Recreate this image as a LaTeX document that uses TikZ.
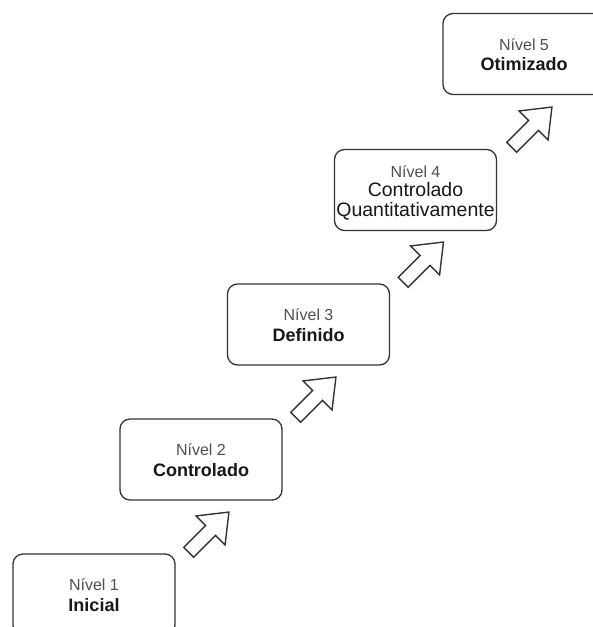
\documentclass[tikz,border=0pt]{standalone}
\usepackage{fontspec}
\setmainfont{Liberation Sans}
\usetikzlibrary{calc}
\definecolor{edge}{RGB}{51,51,51}
\definecolor{lvl}{RGB}{80,80,80}
\definecolor{ink}{RGB}{24,24,24}
\tikzset{
  stage/.style={draw=edge, line width=1.3pt, rounded corners=10pt,
    minimum width=162pt, minimum height=81pt, inner sep=0pt, fill=white},
  lvltext/.style={font=\fontsize{16}{19}\selectfont, text=lvl, anchor=base, inner sep=0pt},
  titletext/.style={font=\bfseries\fontsize{18}{21}\selectfont, text=ink, anchor=base, inner sep=0pt},
  plaintext/.style={font=\fontsize{19.5}{22}\selectfont, text=ink, anchor=base, inner sep=0pt},
  blockarrow/.style={draw=edge, line width=1.4pt, fill=white, line join=miter},
  pics/stepup/.style={code={
    \draw[blockarrow, rotate=45] (0,7) -- (31,7) -- (31,20.5) -- (57,0)
      -- (31,-20.5) -- (31,-7) -- (0,-7) -- cycle;
  }},
}
\begin{document}
\begin{tikzpicture}[x=1pt, y=-1pt]
  \fill[white] (0,0) rectangle (593,627);
  \useasboundingbox (0,0) rectangle (593,627);

  % maturity levels, climbing to the upper right
  \node[stage] (b1) at (94,594.5) {};
  \node[stage] (b2) at (201,459.5) {};
  \node[stage] (b3) at (308.5,324.5) {};
  \node[stage] (b4) at (415.5,190) {};
  \node[stage] (b5) at (524,54) {};

  \node[lvltext] (l1) at ($(b1.center)+(0,-4)$) {Nível 1};
  \node[titletext] (t1) at ($(b1.center)+(0,16.5)$) {Inicial};

  \node[lvltext] (l2) at ($(b2.center)+(0,-4)$) {Nível 2};
  \node[titletext] (t2) at ($(b2.center)+(0,16.5)$) {Controlado};

  \node[lvltext] (l3) at ($(b3.center)+(0,-4)$) {Nível 3};
  \node[titletext] (t3) at ($(b3.center)+(0,16.5)$) {Definido};

  \node[lvltext] (l4) at ($(b4.center)+(0,-13)$) {Nível 4};
  \node[plaintext] (t4a) at ($(b4.center)+(0,6.5)$) {Controlado};
  \node[plaintext] (t4b) at ($(b4.center)+(0,26)$) {Quantitativamente};

  \node[lvltext] (l5) at ($(b5.center)+(0,-4)$) {Nível 5};
  \node[titletext] (t5) at ($(b5.center)+(0,16.5)$) {Otimizado};

  % block arrows between consecutive levels
  \pic (a1) at ($(b1.north east)+(13,-1)$) {stepup};
  \pic (a2) at ($(b2.north east)+(13,-1)$) {stepup};
  \pic (a3) at ($(b3.north east)+(13,-1)$) {stepup};
  \pic (a4) at ($(b4.north east)+(14.5,-1.5)$) {stepup};
\end{tikzpicture}
\end{document}
